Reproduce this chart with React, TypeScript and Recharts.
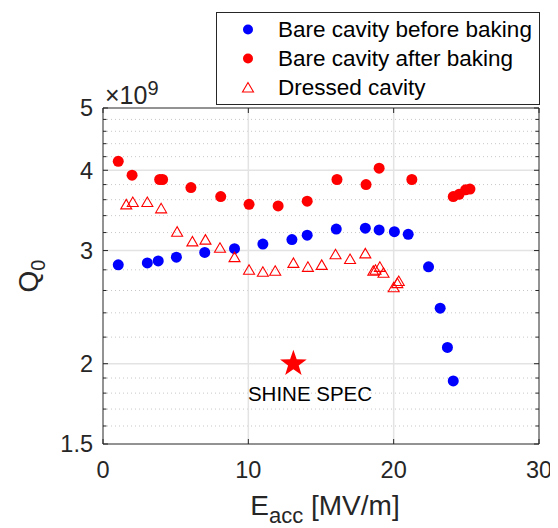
import { ScatterChart, Scatter, XAxis, YAxis, ReferenceLine } from "recharts";

// Q0 values are in units of 1e9
const beforeE = [1.05, 3.05, 3.8, 5.05, 7.0, 9.05, 11.0, 13.0, 14.05, 16.05, 18.05, 19.0, 20.05, 21.0, 22.4, 23.2, 23.7, 24.1];
const beforeQ = [2.85, 2.87, 2.89, 2.93, 2.98, 3.02, 3.07, 3.12, 3.17, 3.24, 3.25, 3.23, 3.21, 3.18, 2.83, 2.44, 2.12, 1.88];

const afterE = [1.05, 2.0, 3.9, 4.1, 6.05, 8.1, 10.05, 12.05, 14.05, 16.1, 18.1, 19.0, 21.25, 24.1, 24.5, 24.95, 25.25];
const afterQ = [4.13, 3.93, 3.87, 3.87, 3.76, 3.64, 3.54, 3.52, 3.58, 3.87, 3.8, 4.03, 3.87, 3.64, 3.67, 3.73, 3.74];

const dressedE = [1.6, 2.05, 3.05, 4.0, 5.1, 6.15, 7.05, 8.05, 9.05, 10.05, 11.0, 11.85, 13.1, 14.1, 15.05, 16.0, 17.0, 18.05, 18.6, 18.75, 19.05, 19.3, 20.0, 20.25, 20.35];
const dressedQ = [3.54, 3.57, 3.57, 3.49, 3.21, 3.1, 3.12, 3.03, 2.93, 2.8, 2.78, 2.79, 2.87, 2.83, 2.85, 2.96, 2.91, 2.97, 2.79, 2.8, 2.83, 2.77, 2.63, 2.67, 2.69];

const specE = [13.1];
const specQ = [2.0];

const xTicks = [0, 10, 20, 30];
const yMajor = [1.5, 2, 3, 4, 5];
const yMinor = [1.6, 1.7, 1.8, 1.9, 2.2, 2.4, 2.6, 2.8, 3.2, 3.4, 3.6, 3.8, 4.2, 4.4, 4.6, 4.8];

const legendItems = [
  { label: "Bare cavity before baking", kind: "dot", color: "#0000ff" },
  { label: "Bare cavity after baking", kind: "dot", color: "#ff0000" },
  { label: "Dressed cavity", kind: "tri", color: "#ff0000" },
];

const zip = (xs: number[], ys: number[]) => xs.map((x, i) => ({ x, y: ys[i] }));

const W = 550;
const H = 520;
const M = { top: 100, right: 19, bottom: 0, left: 15 };
const PLOT_RIGHT = W - M.right;
const AX = "#262626";
const FONT = "'Liberation Sans', Arial, Helvetica, sans-serif";

const Dot = (color: string) => (p: any) => <circle cx={p.cx} cy={p.cy} r={5.5} fill={color} />;

const Tri = (p: any) => {
  const { cx, cy } = p;
  const pts = `${cx},${cy - 5} ${cx - 5.5},${cy + 4.5} ${cx + 5.5},${cy + 4.5}`;
  return <polygon points={pts} fill="none" stroke="#ff0000" strokeWidth={1.1} />;
};

const Star = (p: any) => {
  const { cx, cy } = p;
  const R = 14;
  const r = 5.6;
  const pts: string[] = [];
  for (let i = 0; i < 10; i++) {
    const a = -Math.PI / 2 + (i * Math.PI) / 5;
    const rr = i % 2 === 0 ? R : r;
    pts.push(`${cx + rr * Math.cos(a)},${cy + rr * Math.sin(a)}`);
  }
  return <polygon points={pts.join(" ")} fill="#ff0000" />;
};

const YTick = (p: any) => {
  const { x, y, payload } = p;
  const major = yMajor.includes(payload.value);
  const len = major ? 5 : 3.5;
  return (
    <g>
      <line x1={x} x2={x + len} y1={y} y2={y} stroke={AX} />
      <line x1={PLOT_RIGHT} x2={PLOT_RIGHT - len} y1={y} y2={y} stroke={AX} />
      {major && (
        <text x={x - 10} y={y} dy="0.36em" textAnchor="end" fontSize={23.5} fill={AX} fontFamily={FONT}>
          {payload.value}
        </text>
      )}
    </g>
  );
};

const XTick = (p: any) => {
  const { x, y, payload } = p;
  return (
    <g>
      <line x1={x} x2={x} y1={y} y2={y - 5} stroke={AX} />
      <line x1={x} x2={x} y1={M.top} y2={M.top + 5} stroke={AX} />
      <text x={x} y={y + 34} textAnchor="middle" fontSize={23.5} fill={AX} fontFamily={FONT}>
        {payload.value}
      </text>
    </g>
  );
};

const XLabel = (p: any) => {
  const vb = p.viewBox;
  return (
    <text x={vb.x + vb.width / 2 + 4} y={vb.y + 71} textAnchor="middle" fontSize={28} fill={AX} fontFamily={FONT}>
      E<tspan fontSize={22} dy={8}>acc</tspan>
      <tspan dy={-8}> [MV/m]</tspan>
    </text>
  );
};

const YLabel = (p: any) => {
  const vb = p.viewBox;
  const cx = 30;
  const cy = vb.y + vb.height / 2;
  return (
    <text x={cx} y={cy} transform={`rotate(-90, ${cx}, ${cy})`} textAnchor="middle" fontSize={28} fill={AX} fontFamily={FONT}>
      Q<tspan fontSize={20} dy={7}>0</tspan>
    </text>
  );
};

export default function App() {
  return (
    <div style={{ position: "relative", width: W, height: H, fontFamily: FONT, background: "#fff" }}>
      <ScatterChart width={W} height={H} margin={M}>
        <XAxis
          type="number"
          dataKey="x"
          domain={[0, 30]}
          ticks={xTicks}
          height={84}
          tickSize={0}
          tickMargin={0}
          tickLine={false}
          tick={<XTick />}
          axisLine={{ stroke: AX }}
          allowDataOverflow
          label={<XLabel />}
        />
        <YAxis
          type="number"
          dataKey="y"
          scale="log"
          domain={[1.5, 5]}
          ticks={[...yMajor, ...yMinor].sort((a, b) => a - b)}
          width={80}
          tickSize={0}
          tickMargin={0}
          tickLine={false}
          tick={<YTick />}
          axisLine={{ stroke: AX }}
          allowDataOverflow
          interval={0}
          label={<YLabel />}
        />
        {yMinor.map((v) => (
          <ReferenceLine key={"m" + v} y={v} stroke="#c8c8c8" strokeDasharray="1 3" />
        ))}
        {yMajor.slice(1, -1).map((v) => (
          <ReferenceLine key={"y" + v} y={v} stroke="#e3e3e3" strokeWidth={1.5} />
        ))}
        {xTicks.slice(1, -1).map((v) => (
          <ReferenceLine key={"x" + v} x={v} stroke="#e3e3e3" strokeWidth={1.5} />
        ))}
        <ReferenceLine y={5} stroke={AX} />
        <ReferenceLine x={30} stroke={AX} />
        <Scatter data={zip(beforeE, beforeQ)} shape={Dot("#0000ff")} isAnimationActive={false} />
        <Scatter data={zip(afterE, afterQ)} shape={Dot("#ff0000")} isAnimationActive={false} />
        <Scatter data={zip(dressedE, dressedQ)} shape={Tri} isAnimationActive={false} />
        <Scatter data={zip(specE, specQ)} shape={Star} isAnimationActive={false} />
      </ScatterChart>

      <div
        style={{
          position: "absolute",
          left: 97,
          top: 75,
          fontSize: 25,
          color: AX,
          lineHeight: "24px",
          whiteSpace: "nowrap",
        }}
      >
        ×10<sup style={{ fontSize: 20, verticalAlign: "9px", lineHeight: 0 }}>9</sup>
      </div>

      <div
        style={{
          position: "absolute",
          left: 302,
          top: 376,
          transform: "translateX(-50%)",
          fontSize: 20.5,
          color: "#000",
          whiteSpace: "nowrap",
          lineHeight: "20px",
        }}
      >
        SHINE SPEC
      </div>

      <div
        style={{
          position: "absolute",
          left: 208,
          top: 4,
          width: 322,
          height: 89,
          border: `1px solid ${AX}`,
          background: "#fff",
          boxSizing: "content-box",
          paddingTop: 2,
        }}
      >
        {legendItems.map((it) => (
          <div key={it.label} style={{ display: "flex", alignItems: "center", height: 29 }}>
            <svg width={61} height={29}>
              {it.kind === "dot" ? (
                <circle cx={31} cy={14.5} r={5} fill={it.color} />
              ) : (
                <polygon points="31,9.5 25.5,19 36.5,19" fill="none" stroke={it.color} strokeWidth={1.1} />
              )}
            </svg>
            <span style={{ fontSize: 22.5, color: "#000", whiteSpace: "nowrap" }}>{it.label}</span>
          </div>
        ))}
      </div>
    </div>
  );
}
